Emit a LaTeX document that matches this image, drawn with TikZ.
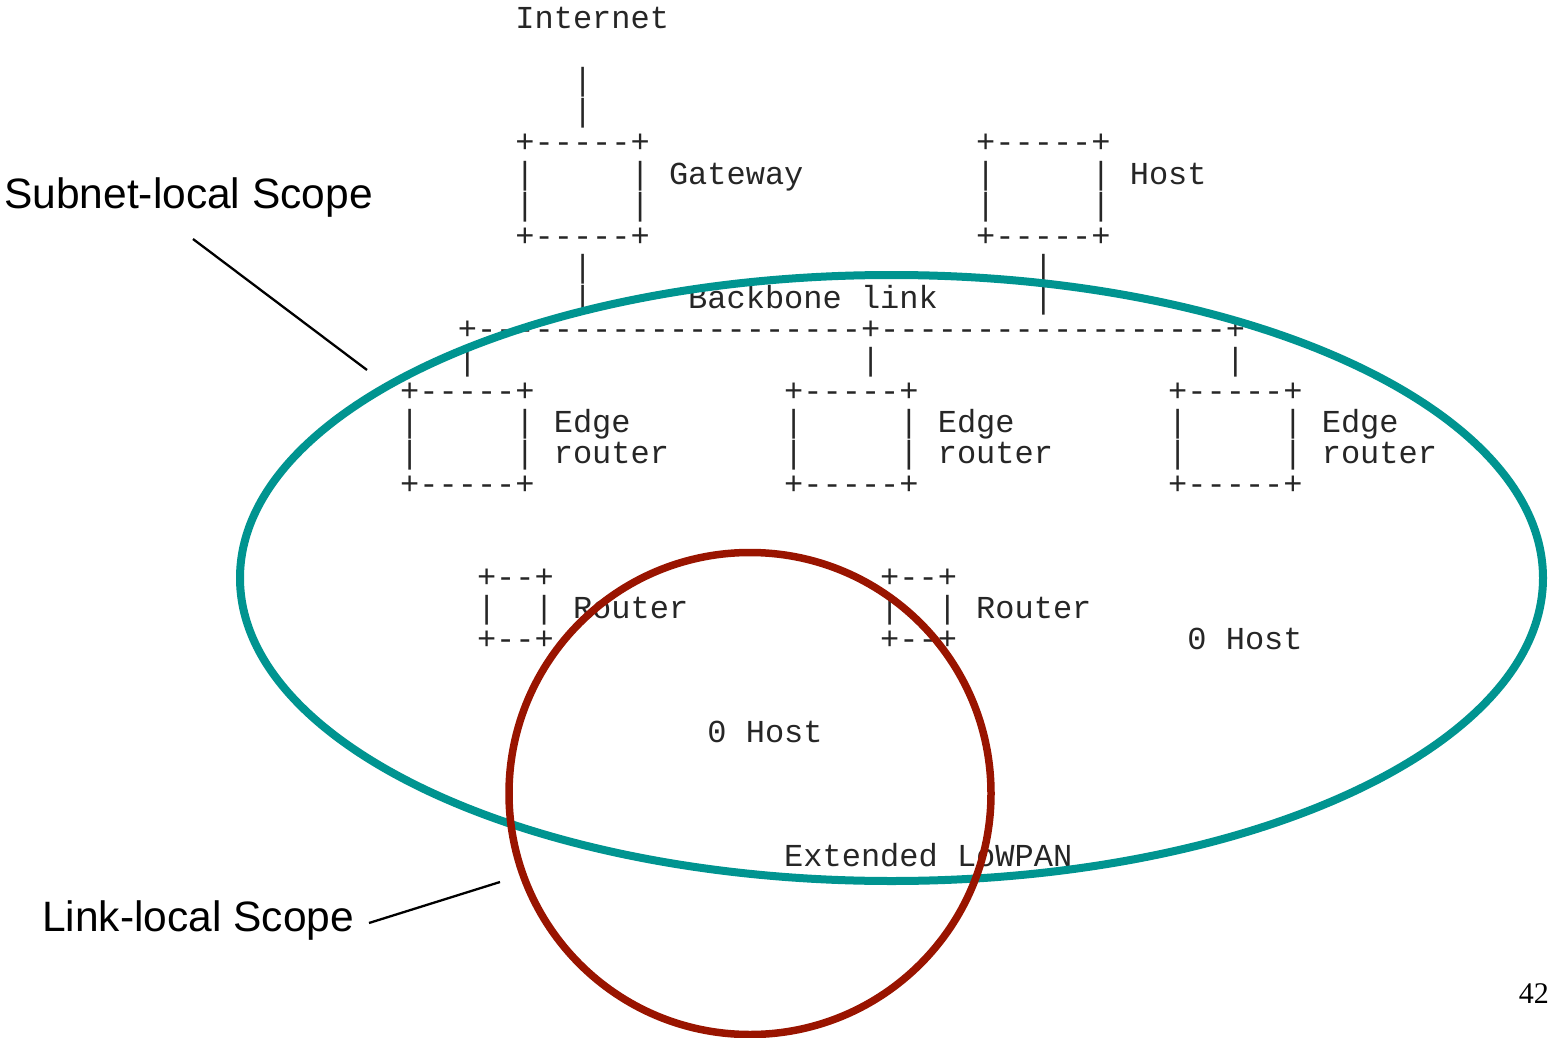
\documentclass[tikz,border=0pt]{standalone}
\usepackage{fontspec}
\setmainfont{Liberation Serif}
\setsansfont{Liberation Sans}
\setmonofont{Liberation Mono}
\definecolor{subnetteal}{RGB}{0,148,144}
\definecolor{linkred}{RGB}{153,20,0}
% one cell of the character grid: 19.2 wide, 31 high
\newcommand\cell[4]{\node[mono] (#1) at ({400+19.2*(#2)},{29+31*(#3)}) {#4};}
\begin{document}
\begin{tikzpicture}[x=1pt,y=-1pt,
  mono/.style={font=\ttfamily\fontsize{32}{32}\selectfont,anchor=base west,inner sep=0pt,text=black!85},
  scopelabel/.style={font=\sffamily\fontsize{42.5}{42.5}\selectfont,anchor=base west,inner sep=0pt},
  pointer/.style={draw=black,line width=2.3pt},
  subnet/.style={draw=subnetteal,line width=8pt},
  linkscope/.style={draw=linkred,line width=7.5pt}]
\useasboundingbox (0,0) rectangle (1556,1038);

% gateway to the Internet
\cell{inet}{6}{0}{Internet}
\cell{up1}{9}{2}{|}
\cell{up2}{9}{3}{|}
\cell{gwtop}{6}{4}{+-----+}
\cell{gwl1}{6}{5}{|}\cell{gwr1}{12}{5}{|}\cell{gwlbl}{14}{5}{Gateway}
\cell{gwl2}{6}{6}{|}\cell{gwr2}{12}{6}{|}
\cell{gwbot}{6}{7}{+-----+}
\cell{gwdn1}{9}{8}{|}
\cell{gwdn2}{9}{9}{|}

% host on the backbone
\cell{hosttop}{30}{4}{+-----+}
\cell{hl1}{30}{5}{|}\cell{hr1}{36}{5}{|}\cell{hostlbl}{38}{5}{Host}
\cell{hl2}{30}{6}{|}\cell{hr2}{36}{6}{|}
\cell{hostbot}{30}{7}{+-----+}
\cell{hdn1}{33}{8}{|}
\cell{hdn2}{33}{9}{|}

% backbone link
\cell{bblbl}{15}{9}{Backbone link}
\cell{backbone}{3}{10}{+--------------------+------------------+}
\cell{bb1}{3}{11}{|}
\cell{bb2}{24}{11}{|}
\cell{bb3}{43}{11}{|}

% edge routers
\foreach \c/\n in {0/a,20/b,40/c}{
  \cell{er\n top}{\c}{12}{+-----+}
  \cell{er\n l1}{\c}{13}{|}
  \cell{er\n r1}{\c+6}{13}{|}
  \cell{er\n lbl1}{\c+8}{13}{Edge}
  \cell{er\n l2}{\c}{14}{|}
  \cell{er\n r2}{\c+6}{14}{|}
  \cell{er\n lbl2}{\c+8}{14}{router}
  \cell{er\n bot}{\c}{15}{+-----+}
}

% routers and hosts of the extended LoWPAN
\foreach \c/\n in {4/a,25/b}{
  \cell{rt\n top}{\c}{18}{+--+}
  \cell{rt\n l}{\c}{19}{|}
  \cell{rt\n r}{\c+3}{19}{|}
  \cell{rt\n lbl}{\c+5}{19}{Router}
  \cell{rt\n bot}{\c}{20}{+--+}
}
\cell{hosta}{41}{20}{0 Host}
\cell{hostb}{16}{23}{0 Host}
\cell{lowpan}{20}{27}{Extended LoWPAN}

% scopes
\draw[subnet] (891.5,578) ellipse [x radius=651.5, y radius=303];
\draw[linkscope] (750,793.5) circle [radius=241];

% scope labels and their pointers
\node[scopelabel] (subnetlbl) at (4,208) {Subnet-local Scope};
\node[scopelabel] (linklbl) at (42,931) {Link-local Scope};
\coordinate (subnetfrom) at (193,239);
\coordinate (subnetto) at (367,370);
\coordinate (linkfrom) at (369,923);
\coordinate (linkto) at (500,882);
\draw[pointer] (subnetfrom) -- (subnetto);
\draw[pointer] (linkfrom) -- (linkto);

% page number
\node[font=\rmfamily\fontsize{30}{30}\selectfont,anchor=base east,inner sep=0pt] (page) at (1549,1003) {42};
\end{tikzpicture}
\end{document}
